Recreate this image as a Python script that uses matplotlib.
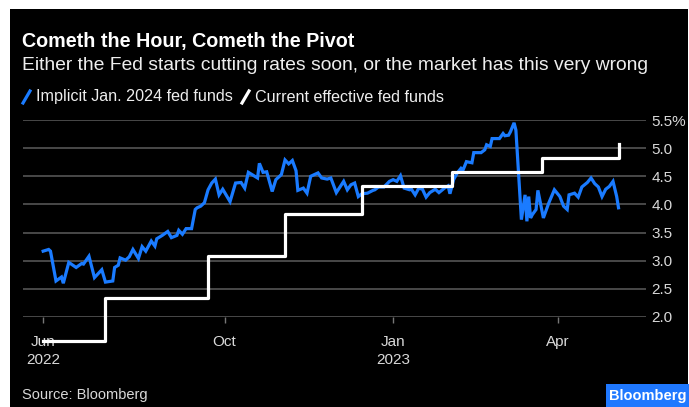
import pandas as pd
import matplotlib.pyplot as plt
from matplotlib.lines import Line2D
from matplotlib.patches import Rectangle

plt.rcParams['font.family'] = ['Liberation Sans', 'DejaVu Sans']

# Implied Jan. 2024 fed funds: days since the first point, rate in %
start = pd.Timestamp('2022-06-24')
implied_days = [0, 3, 4, 7, 10, 11, 13, 14, 18, 21, 22, 25, 28, 32, 34, 38, 39, 41, 42, 45,
                47, 49, 52, 54, 56, 59, 61, 62, 65, 68, 70, 73, 74, 76, 78, 81, 83, 84, 86, 88,
                90, 92, 94, 96, 98, 102, 105, 108, 110, 112, 115, 117, 118, 120, 122, 125, 127, 130, 132, 134,
                136, 138, 139, 142, 144, 146, 150, 152, 155, 157, 160, 161, 164, 166, 168, 170, 172, 174, 177, 180,
                181, 183, 186, 189, 191, 193, 195, 197, 200, 201, 203, 205, 207, 209, 211, 214, 216, 219, 221, 222,
                224, 226, 228, 229, 231, 234, 235, 239, 241, 242, 244, 245, 249, 251, 252, 254, 255, 257, 258, 261,
                263, 264, 265, 266, 267, 269, 270, 273, 276, 279, 282, 284, 286, 287, 290, 292, 294, 297, 299, 301,
                303, 305, 307, 309, 311, 313, 314]
implied_rate = [3.17, 3.20, 3.17, 2.64, 2.71, 2.60, 2.85, 2.97, 2.88, 2.95, 2.94, 3.08, 2.70, 2.84, 2.62, 2.64, 2.88, 2.92, 3.05, 3.01,
                3.07, 3.20, 3.04, 3.25, 3.17, 3.35, 3.26, 3.39, 3.45, 3.52, 3.41, 3.45, 3.54, 3.47, 3.57, 3.57, 3.91, 3.94, 3.97, 4.03,
                4.26, 4.38, 4.45, 4.17, 4.27, 4.05, 4.38, 4.39, 4.29, 4.57, 4.51, 4.47, 4.73, 4.57, 4.58, 4.23, 4.44, 4.53, 4.79, 4.72,
                4.78, 4.60, 4.25, 4.29, 4.20, 4.50, 4.56, 4.47, 4.45, 4.47, 4.21, 4.26, 4.41, 4.26, 4.35, 4.38, 4.14, 4.19, 4.20, 4.25,
                4.26, 4.31, 4.31, 4.41, 4.44, 4.41, 4.51, 4.29, 4.26, 4.27, 4.17, 4.29, 4.27, 4.13, 4.21, 4.27, 4.21, 4.29, 4.33, 4.19,
                4.44, 4.56, 4.64, 4.60, 4.76, 4.74, 4.92, 4.92, 4.97, 5.06, 5.03, 5.17, 5.17, 5.26, 5.22, 5.23, 5.29, 5.45, 5.32, 3.73,
                4.17, 3.70, 4.14, 3.76, 3.82, 3.91, 4.25, 3.76, 4.03, 4.26, 4.14, 3.97, 3.91, 4.17, 4.20, 4.13, 4.31, 4.39, 4.47, 4.37,
                4.31, 4.14, 4.27, 4.32, 4.41, 4.14, 3.94]

# Effective fed funds rate (step changes)
effr_dates = ['2022-06-24', '2022-07-28', '2022-09-22', '2022-11-03', '2022-12-15',
              '2023-02-02', '2023-03-23', '2023-05-04']
effr_rate = [1.58, 2.33, 3.08, 3.83, 4.33, 4.58, 4.83, 5.08]

tick_dates = ['2022-06-24', '2022-10-01', '2023-01-01', '2023-04-01']
tick_labels = ['Jun\n2022', 'Oct', 'Jan\n2023', 'Apr']
y_ticks = [2.0, 2.5, 3.0, 3.5, 4.0, 4.5, 5.0, 5.5]
y_labels = ['2.0', '2.5', '3.0', '3.5', '4.0', '4.5', '5.0', '5.5%']

W, H = 689, 407
BLUE = '#1a7bff'
GRID = '#555555'


def px(x, y):
    # pixel coords (from top-left) -> figure fraction
    return x / W, 1 - y / H


fig = plt.figure(figsize=(W / 100, H / 100), dpi=100, facecolor='white')
fig.add_artist(Rectangle(px(9.5, 407), (688 - 9.5) / W, (407 - 9) / H,
                         transform=fig.transFigure, facecolor='black', edgecolor='none', zorder=0))

ax = fig.add_axes([23 / W, (H - 317) / H, (646 - 23) / W, (317 - 120) / H])
ax.set_facecolor('black')

implied_dates = start + pd.to_timedelta(implied_days, unit='D')
ax.plot(implied_dates, implied_rate, color=BLUE, lw=2.3, solid_joinstyle='miter', zorder=3)
ax.plot(pd.to_datetime(effr_dates), effr_rate, color='white', lw=2.3,
        drawstyle='steps-post', clip_on=False, zorder=4)

ax.set_ylim(2.0, 5.5)
ax.set_xlim(pd.Timestamp('2022-06-13'), pd.Timestamp('2023-05-19'))
for s in ax.spines.values():
    s.set_visible(False)

ax.yaxis.tick_right()
ax.set_yticks(y_ticks)
ax.set_yticklabels(y_labels)
ax.tick_params(axis='y', length=0, pad=4, labelsize=11, labelcolor='#d9d9d9')
ax.grid(axis='y', color=GRID, lw=1.2)
ax.set_axisbelow(True)

ax.set_xticks(pd.to_datetime(tick_dates))
ax.set_xticklabels(tick_labels, linespacing=1.35)
ax.tick_params(axis='x', length=4, width=1, color='#777777', pad=9,
               labelsize=11, labelcolor='#d9d9d9')

fig.text(*px(22, 41), 'Cometh the Hour, Cometh the Pivot', color='white',
         fontsize=14.2, fontweight='bold', va='center', ha='left')
fig.text(*px(22, 65), 'Either the Fed starts cutting rates soon, or the market has this very wrong',
         color='#eeeeee', fontsize=13.9, va='center', ha='left')

fig.add_artist(Line2D([23 / W, 30 / W], [1 - 103 / H, 1 - 91 / H], color=BLUE, lw=2.3,
                      transform=fig.transFigure))
fig.text(*px(36, 97), 'Implicit Jan. 2024 fed funds', color='#eeeeee', fontsize=11.6,
         va='center', ha='left')
fig.add_artist(Line2D([242 / W, 249 / W], [1 - 103 / H, 1 - 91 / H], color='white', lw=2.3,
                      transform=fig.transFigure))
fig.text(*px(255, 97), 'Current effective fed funds', color='#eeeeee', fontsize=11.6,
         va='center', ha='left')

fig.text(*px(22, 395), 'Source: Bloomberg', color='#d9d9d9', fontsize=10.5,
         va='center', ha='left')
fig.add_artist(Rectangle(px(606, 407), (689 - 606) / W, (407 - 384) / H,
                         transform=fig.transFigure, facecolor='#1f78ff', edgecolor='none'))
fig.text(*px(648, 396), 'Bloomberg', color='white', fontsize=10.5, fontweight='bold',
         va='center', ha='center')

fig.savefig('out.png', dpi=100, facecolor=fig.get_facecolor())
